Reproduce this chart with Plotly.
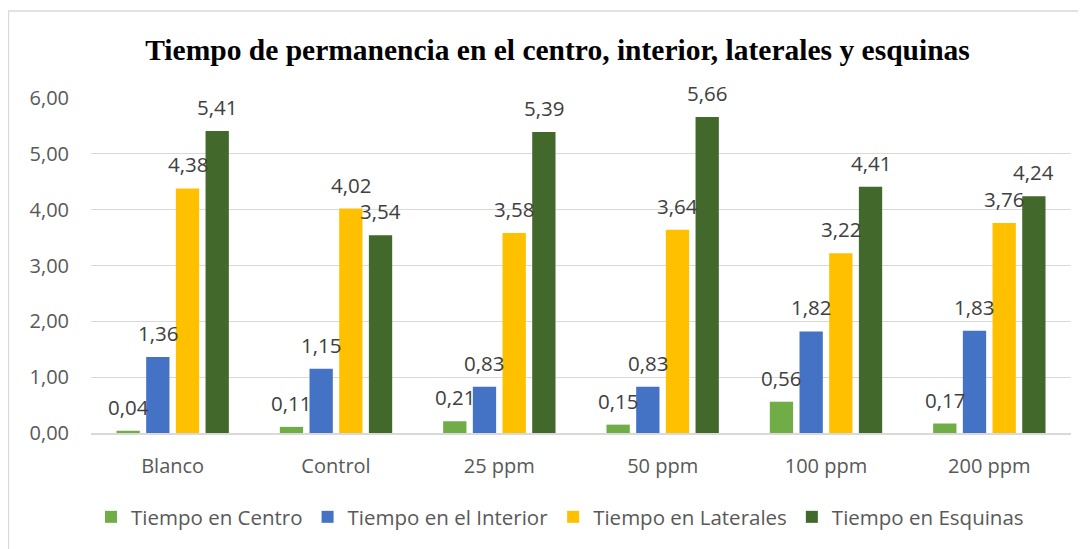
import plotly.graph_objects as go

categories = ["Blanco", "Control", "25 ppm", "50 ppm", "100 ppm", "200 ppm"]
series_names = ["Tiempo en Centro", "Tiempo en el Interior", "Tiempo en Laterales", "Tiempo en Esquinas"]
centro = [0.04, 0.11, 0.21, 0.15, 0.56, 0.17]
interior = [1.36, 1.15, 0.83, 0.83, 1.82, 1.83]
laterales = [4.38, 4.02, 3.58, 3.64, 3.22, 3.76]
esquinas = [5.41, 3.54, 5.39, 5.66, 4.41, 4.24]
colors = ["#70AD47", "#4472C4", "#FFC000", "#43682B"]
title_text = "Tiempo de permanencia en el centro, interior, laterales y esquinas"

series = [centro, interior, laterales, esquinas]
BARGAP = 0.273
GROUPGAP = 0.215

# the page body has an 8px margin, so the figure is sized/offset to compensate
W, H = 1078, 541
L, R, T, B = 83, 15, 90, 116
PW = W - L - R
PH = H - T - B

fig = go.Figure()
for name, vals, col in zip(series_names, series, colors):
    fig.add_trace(go.Bar(x=categories, y=vals, name=name, marker=dict(color=col, line=dict(width=0))))

# data labels above each bar (Excel "outside end")
n = len(series)
slot = (1 - BARGAP) / n
annotations = []
for j, vals in enumerate(series):
    for i, v in enumerate(vals):
        annotations.append(dict(
            x=i - (1 - BARGAP) / 2 + (j + 0.5) * slot, y=v, xref="x", yref="y",
            text=f"{v:.2f}".replace(".", ","), showarrow=False,
            yanchor="middle", xanchor="center", yshift=24,
            font=dict(family="Open Sans", size=20.5, color="#404040")))

fig.update_layout(
    width=W, height=H,
    margin=dict(l=L, r=R, t=T, b=B),
    paper_bgcolor="white", plot_bgcolor="white",
    barmode="group", bargap=BARGAP, bargroupgap=GROUPGAP,
    separators=",.",
    title=dict(text="<b>" + title_text + "</b>", x=549.5 / W, xanchor="center",
               y=1 - 42 / H, yanchor="middle",
               font=dict(family="Liberation Serif", size=29.5, color="black")),
    font=dict(family="Open Sans", size=20, color="#595959"),
    legend=dict(orientation="h", x=(552 - L) / PW, xanchor="center", y=-84 / PH, yanchor="middle",
                font=dict(family="Open Sans", size=20.5, color="#595959"),
                itemwidth=30, traceorder="normal"),
    annotations=annotations,
    shapes=[dict(type="rect", xref="paper", yref="paper",
                 x0=(0.5 - L) / PW, x1=(W + 20 - L) / PW,
                 y0=-(B + 20) / PH, y1=(PH + T - 3) / PH,
                 line=dict(color="#D9D9D9", width=1.3), fillcolor="rgba(0,0,0,0)", layer="below")],
)
fig.update_xaxes(showline=True, linecolor="#D9D9D9", linewidth=1.5, ticks="",
                 ticklabelstandoff=14, showgrid=False,
                 tickfont=dict(family="Open Sans", size=20, color="#595959"))
fig.update_yaxes(range=[0, 6], dtick=1, tickformat=".2f", showgrid=True, gridcolor="#D9D9D9",
                 gridwidth=1.3, zeroline=False, showline=False, ticks="",
                 ticklabelstandoff=21,
                 tickfont=dict(family="Open Sans", size=20, color="#595959"))

fig.write_html("out.html")
